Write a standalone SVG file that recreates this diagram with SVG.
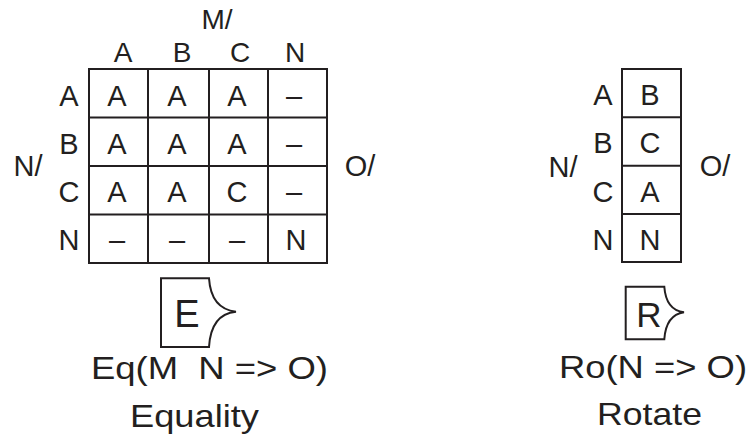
<svg xmlns="http://www.w3.org/2000/svg" width="748" height="438" viewBox="0 0 748 438">
<style>
  .t { font-family: "Liberation Sans", Arial, sans-serif; font-size: 29px; fill: #231f20; text-anchor: middle; }
  .h { font-family: "Liberation Sans", Arial, sans-serif; font-size: 28px; fill: #231f20; text-anchor: middle; }
  .b { font-family: "Liberation Sans", Arial, sans-serif; font-size: 32px; fill: #231f20; white-space: pre; }
  .big { font-family: "Liberation Sans", Arial, sans-serif; font-size: 38px; fill: #231f20; text-anchor: middle; }
  .ln { fill: none; stroke: #231f20; stroke-width: 2; }
</style>
<rect width="748" height="438" fill="#ffffff"/>
<g id="matrix-eq">
  <rect class="ln" x="89" y="69" width="238" height="194"/>
  <path class="ln" d="M148,69V263M209,69V263M268,69V263M89,117.5H327M89,166H327M89,214.5H327"/>
  <text class="h" x="217" y="29">M/</text>
  <text class="h" x="123" y="62">A</text>
  <text class="h" x="182" y="62">B</text>
  <text class="h" x="240" y="62">C</text>
  <text class="h" x="295" y="62">N</text>
  <text class="t" x="28" y="176">N/</text>
  <text class="t" x="360" y="176">O/</text>
  <text class="t" x="69" y="106">A</text>
  <text class="t" x="69" y="154">B</text>
  <text class="t" x="69" y="202">C</text>
  <text class="t" x="69" y="250">N</text>
  <text class="t" x="117" y="106">A</text><text class="t" x="177" y="106">A</text><text class="t" x="237" y="106">A</text><text class="t" x="294" y="106">–</text>
  <text class="t" x="117" y="154">A</text><text class="t" x="177" y="154">A</text><text class="t" x="237" y="154">A</text><text class="t" x="294" y="154">–</text>
  <text class="t" x="117" y="202">A</text><text class="t" x="177" y="202">A</text><text class="t" x="237" y="202">C</text><text class="t" x="294" y="202">–</text>
  <text class="t" x="117" y="250">–</text><text class="t" x="177" y="250">–</text><text class="t" x="237" y="250">–</text><text class="t" x="296" y="250">N</text>
</g>
<g id="matrix-ro">
  <rect class="ln" x="622" y="69" width="59" height="193"/>
  <path class="ln" d="M622,117.3H681M622,165.7H681M622,214H681"/>
  <text class="t" x="563" y="177">N/</text>
  <text class="t" x="715" y="176">O/</text>
  <text class="t" x="603" y="105">A</text>
  <text class="t" x="603" y="153">B</text>
  <text class="t" x="603" y="202">C</text>
  <text class="t" x="603" y="250">N</text>
  <text class="t" x="650" y="105">B</text>
  <text class="t" x="650" y="153">C</text>
  <text class="t" x="650" y="202">A</text>
  <text class="t" x="650" y="250">N</text>
</g>
<g id="symbol-eq">
  <path class="ln" d="M209,278.3H161V347H209Q211,314 236,311.7Q211,309 209,278.3Z"/>
  <text class="big" x="187" y="326.5">E</text>
  <text class="b" x="91" y="379" textLength="237" lengthAdjust="spacingAndGlyphs">Eq(M  N =&gt; O)</text>
  <text class="b" x="130" y="427" textLength="129" lengthAdjust="spacingAndGlyphs">Equality</text>
</g>
<g id="symbol-ro">
  <path class="ln" d="M664.3,286.7H625.7V339.3H664.3Q666,315 684,312.3Q666,310 664.3,286.7Z"/>
  <text class="big" x="649" y="326.5" style="font-size:35px">R</text>
  <text class="b" x="559" y="378" textLength="188" lengthAdjust="spacingAndGlyphs">Ro(N =&gt; O)</text>
  <text class="b" x="597" y="425" textLength="105" lengthAdjust="spacingAndGlyphs">Rotate</text>
</g>
</svg>
